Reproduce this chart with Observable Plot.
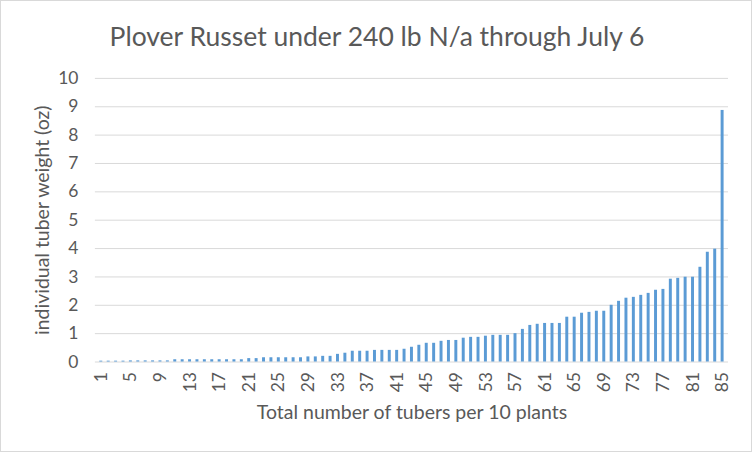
<!DOCTYPE html>
<html>
<head>
<meta charset="utf-8">
<script src="https://cdn.jsdelivr.net/npm/d3@7"></script>
<script src="https://cdn.jsdelivr.net/npm/@observablehq/plot@0.6"></script>
<style>
  html, body { margin: 0; padding: 0; background: #fff; }
  #wrap { position: relative; width: 750px; height: 450px; border: 1px solid #d9d9d9; overflow: hidden; }
  #title { position: absolute; left: 0; width: 752px; top: 19px; text-align: center; font-family: Lato, "Open Sans", sans-serif; font-size: 26.5px; color: #595959; white-space: nowrap; }
  #chart { position: absolute; left: -1px; top: -1px; }
</style>
</head>
<body>
<div id="wrap">
  <div id="chart"></div>
  <div id="title">Plover Russet under 240 lb N/a through July 6</div>
</div>
<script>
const title = "Plover Russet under 240 lb N/a through July 6";
const xLabel = "Total number of tubers per 10 plants";
const yLabel = "individual tuber weight (oz)";
const tuberIndex = d3.range(1, 86);
const weights = [
  0.03,0.03,0.03,0.03,0.04,0.04,0.04,0.04,0.04,0.04,
  0.08,0.08,0.08,0.08,0.08,0.08,0.08,0.08,0.08,0.08,
  0.12,0.12,0.15,0.15,0.15,0.15,0.15,0.15,0.18,0.18,
  0.20,0.20,0.27,0.31,0.38,0.38,0.38,0.41,0.41,0.41,
  0.41,0.45,0.52,0.59,0.66,0.66,0.73,0.76,0.76,0.84,
  0.87,0.87,0.91,0.94,0.94,0.94,1.00,1.15,1.29,1.33,
  1.36,1.36,1.36,1.58,1.58,1.72,1.75,1.79,1.79,2.00,
  2.14,2.25,2.28,2.35,2.42,2.53,2.56,2.92,2.95,2.99,
  2.99,3.34,3.87,3.98,8.87
];
const xTicks = tuberIndex.filter(d => (d - 1) % 4 === 0);
const yTicks = d3.range(0, 11);

const data = tuberIndex.map((n, i) => ({n, w: weights[i]}));

const chart = Plot.plot({
  width: 752,
  height: 452,
  marginLeft: 95,
  marginRight: 23,
  marginTop: 78,
  marginBottom: 90,
  style: {fontFamily: "Lato, 'Open Sans', sans-serif", color: "#595959", background: "transparent"},
  x: {type: "band", domain: tuberIndex, padding: 0.6, label: null},
  y: {domain: [0, 10], label: null},
  marks: [
    Plot.gridY(yTicks, {stroke: "#d9d9d9", strokeOpacity: 1, strokeWidth: 1}),
    Plot.barY(data, {x: "n", y: "w", fill: "#5b9bd5"}),
    Plot.axisY(yTicks, {tickSize: 0, tickPadding: 17, fontSize: 17.5, fill: "#595959", label: null}),
    Plot.axisX(xTicks, {tickSize: 0, tickPadding: 10, tickRotate: -90, fontSize: 17.5, fill: "#595959", label: null}),
    Plot.text([xLabel], {frameAnchor: "bottom", dy: 57, fontSize: 19.5, fill: "#595959"}),
    Plot.text([yLabel], {frameAnchor: "left", textAnchor: "middle", dx: -53, rotate: -90, fontSize: 19.5, fill: "#595959"})
  ]
});
document.getElementById("chart").appendChild(chart);
</script>
</body>
</html>
